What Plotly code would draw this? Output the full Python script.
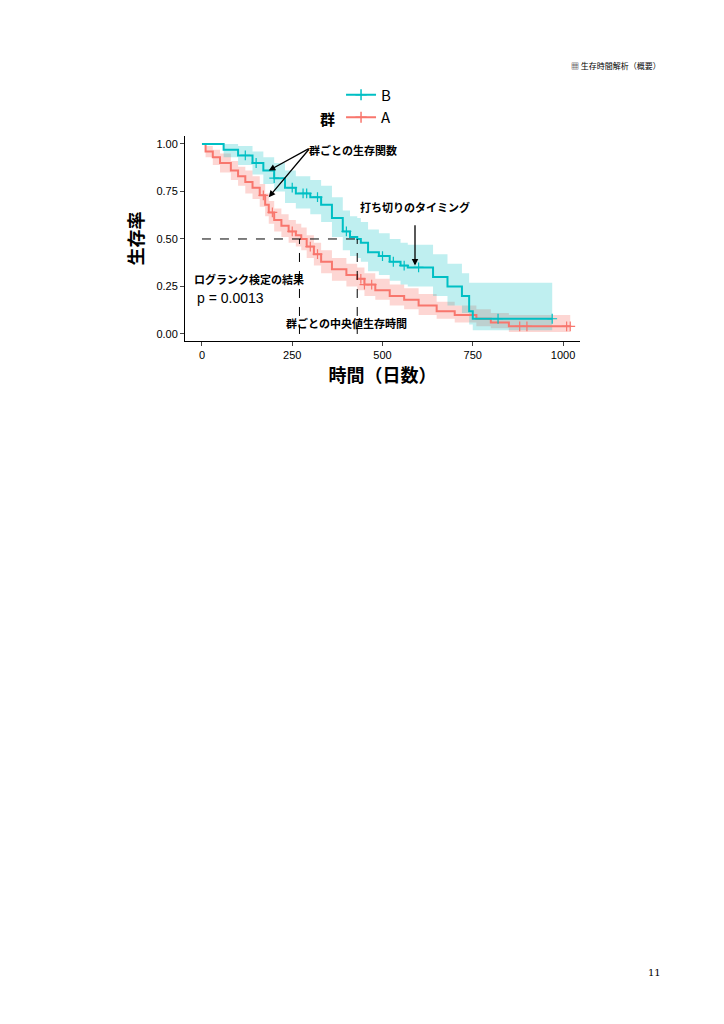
import plotly.graph_objects as go

# Group A (red)
a_t = [0, 10, 30, 50, 80, 100, 120, 140, 160, 175, 185, 200, 220, 240, 260, 275, 290, 310, 330, 360, 400, 430, 450, 480, 520, 560, 600, 650, 700, 760, 800, 850, 1020]
a_s = [1.0, 0.96, 0.93, 0.90, 0.86, 0.83, 0.80, 0.77, 0.73, 0.68, 0.64, 0.60, 0.57, 0.54, 0.52, 0.50, 0.46, 0.42, 0.38, 0.34, 0.31, 0.29, 0.26, 0.23, 0.20, 0.18, 0.15, 0.12, 0.10, 0.08, 0.06, 0.04, 0.04]
a_lo = [1.0, 0.93, 0.89, 0.85, 0.81, 0.78, 0.74, 0.71, 0.67, 0.62, 0.58, 0.54, 0.51, 0.48, 0.46, 0.44, 0.40, 0.36, 0.32, 0.28, 0.25, 0.23, 0.20, 0.18, 0.15, 0.13, 0.10, 0.08, 0.06, 0.04, 0.03, 0.01, 0.01]
a_hi = [1.0, 0.99, 0.97, 0.95, 0.91, 0.88, 0.86, 0.83, 0.79, 0.74, 0.70, 0.66, 0.63, 0.60, 0.58, 0.56, 0.52, 0.48, 0.44, 0.40, 0.37, 0.35, 0.32, 0.29, 0.26, 0.24, 0.21, 0.17, 0.15, 0.13, 0.11, 0.10, 0.10]
a_cens = [170, 195, 250, 300, 320, 440, 450, 470, 880, 900, 1010, 1020]

# Group B (teal)
b_t = [0, 60, 100, 140, 170, 200, 230, 260, 300, 330, 360, 390, 410, 430, 440, 460, 490, 520, 550, 570, 640, 680, 720, 740, 750, 970]
b_s = [1.0, 0.97, 0.94, 0.90, 0.86, 0.82, 0.77, 0.74, 0.72, 0.68, 0.61, 0.54, 0.51, 0.50, 0.48, 0.43, 0.41, 0.38, 0.36, 0.35, 0.30, 0.25, 0.20, 0.12, 0.08, 0.08]
b_lo = [1.0, 0.93, 0.89, 0.84, 0.79, 0.75, 0.69, 0.66, 0.63, 0.59, 0.51, 0.44, 0.41, 0.40, 0.38, 0.33, 0.31, 0.28, 0.26, 0.25, 0.20, 0.15, 0.11, 0.05, 0.02, 0.02]
b_hi = [1.0, 1.0, 0.99, 0.96, 0.93, 0.90, 0.86, 0.83, 0.81, 0.78, 0.72, 0.65, 0.62, 0.61, 0.59, 0.55, 0.53, 0.50, 0.48, 0.47, 0.42, 0.37, 0.32, 0.27, 0.27, 0.27]
b_cens = [120, 150, 200, 250, 280, 290, 320, 400, 500, 530, 560, 600, 820, 970]

medians = [270, 430]
RED = "#F8766D"
TEAL = "#00BFC4"

def surv_at(ts, ss, x):
    v = ss[0]
    for t, s in zip(ts, ss):
        if t <= x:
            v = s
    return v

fig = go.Figure()
for ts, ss, lo, hi, col, fill, name in [
    (a_t, a_s, a_lo, a_hi, RED, "rgba(248,118,109,0.3)", "A"),
    (b_t, b_s, b_lo, b_hi, TEAL, "rgba(0,191,196,0.25)", "B")]:
    fig.add_trace(go.Scatter(x=ts, y=lo, mode="lines", line=dict(width=0, shape="hv"),
                             showlegend=False, hoverinfo="skip"))
    fig.add_trace(go.Scatter(x=ts, y=hi, mode="lines", line=dict(width=0, shape="hv"),
                             fill="tonexty", fillcolor=fill, showlegend=False, hoverinfo="skip"))
for ts, ss, cens, col, name in [(a_t, a_s, a_cens, RED, "A"), (b_t, b_s, b_cens, TEAL, "B")]:
    fig.add_trace(go.Scatter(x=ts, y=ss, mode="lines", line=dict(color=col, width=2, shape="hv"),
                             name=name, legendgroup=name, showlegend=False))
    fig.add_trace(go.Scatter(x=cens, y=[surv_at(ts, ss, c) for c in cens], mode="markers",
                             marker=dict(symbol="cross-thin", size=7, line=dict(color=col, width=1.2)),
                             name=name, legendgroup=name, showlegend=False))
    fig.add_trace(go.Scatter(x=[None], y=[None], mode="lines+markers", name=name,
                             line=dict(color=col, width=2),
                             marker=dict(symbol="cross-thin", size=8, line=dict(color=col, width=1.5))))

# median lines
fig.add_trace(go.Scatter(x=[0, medians[1]], y=[0.5, 0.5], mode="lines",
                         line=dict(color="black", dash="dash", width=1), showlegend=False))
for m in medians:
    fig.add_trace(go.Scatter(x=[m, m], y=[0, 0.5], mode="lines",
                             line=dict(color="black", dash="dash", width=1), showlegend=False))

bold = dict(family="Noto Sans CJK JP", size=11, color="black")
anns = [
    dict(x=290, y=0.97, text="<b>群ごとの生存関数</b>", showarrow=False, xanchor="left"),
    dict(x=185, y=0.86, ax=300, ay=0.98, text="", showarrow=True),
    dict(x=185, y=0.72, ax=300, ay=0.98, text="", showarrow=True),
    dict(x=590, y=0.67, text="<b>打ち切りのタイミング</b>", showarrow=False),
    dict(x=590, y=0.36, ax=590, ay=0.58, text="", showarrow=True),
    dict(x=130, y=0.29, text="<b>ログランク検定の結果</b>", showarrow=False),
    dict(x=80, y=0.19, text="p = 0.0013", showarrow=False, font=dict(family="Liberation Sans", size=14, color="black")),
    dict(x=400, y=0.06, text="<b>群ごとの中央値生存時間</b>", showarrow=False),
]
for a in anns:
    d = dict(xref="x", yref="y", font=bold)
    if a.get("showarrow"):
        d.update(axref="x", ayref="y", arrowhead=2, arrowsize=1, arrowwidth=1.3, arrowcolor="black")
    d.update(a)
    fig.add_annotation(**d)

fig.add_annotation(x=0.905, y=1 - 50 / 1024, xref="paper", yref="paper", text="▦ 生存時間解析（概要）",
                   showarrow=False, xanchor="right", font=dict(family="Noto Sans CJK JP", size=8, color="black"))
fig.add_annotation(x=0.905, y=1 - 972 / 1024, xref="paper", yref="paper", text="11",
                   showarrow=False, xanchor="right", font=dict(family="DejaVu Serif", size=10, color="black"))
fig.add_annotation(x=0.455, y=1 - 98 / 1024, xref="paper", yref="paper", text="<b>群</b>",
                   showarrow=False, xanchor="right", font=dict(family="Noto Sans CJK JP", size=15, color="black"))

fig.update_layout(
    width=724, height=1024, margin=dict(l=0, r=0, t=0, b=0),
    plot_bgcolor="white", paper_bgcolor="white",
    legend=dict(orientation="h", x=0.46, y=1 - 98 / 1024, xanchor="left", yanchor="middle",
                font=dict(family="Noto Sans CJK JP", size=15, color="black"), itemwidth=30),
    xaxis=dict(domain=[177 / 724, 572 / 724], range=[-47, 1047], tickvals=[0, 250, 500, 750, 1000],
               showline=True, linecolor="black", ticks="outside", ticklen=4, showgrid=False, zeroline=False,
               tickfont=dict(family="Liberation Sans", size=11, color="black"),
               title=dict(text="<b>時間（日数）</b>", font=dict(family="Noto Sans CJK JP", size=18, color="black"), standoff=5)),
    yaxis=dict(domain=[1 - 333 / 1024, 1 - 128 / 1024], range=[-0.037, 1.042],
               tickvals=[0, 0.25, 0.5, 0.75, 1.0], ticktext=["0.00", "0.25", "0.50", "0.75", "1.00"],
               showline=True, linecolor="black", ticks="outside", ticklen=4, showgrid=False, zeroline=False,
               tickfont=dict(family="Liberation Sans", size=11, color="black"),
               title=dict(text="<b>生存率</b>", font=dict(family="Noto Sans CJK JP", size=18, color="black"), standoff=8)),
)
fig.write_html("out.html")
